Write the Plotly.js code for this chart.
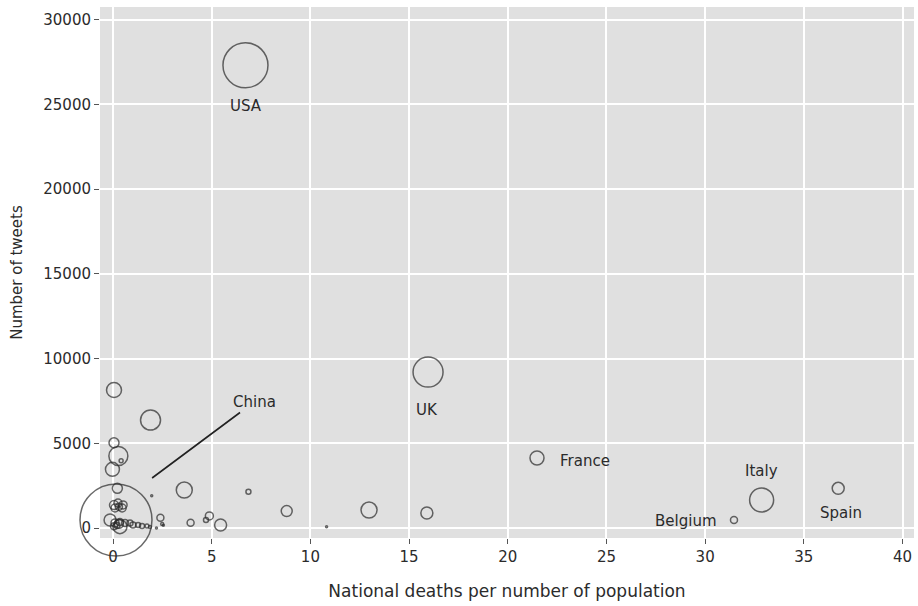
<!DOCTYPE html>
<html>
<head>
<meta charset="utf-8">
<script src="https://cdn.plot.ly/plotly-3.0.1.min.js"></script>
<style>html,body{margin:0;padding:0;background:#fff}#chart{width:918px;height:606px}</style>
</head>
<body>
<div id="chart"></div>
<script>
// Data
const country = ['USA','UK','France','Italy','Spain','Belgium','China',
  '','','','','','','','','','','','','','','','','','','','','','','','','','','','','','','','','','','','','','','','',''];
const deathsPerPop = [6.71,15.96,21.48,32.86,36.74,31.46,0.15,
  0.05,1.90,0.05,0.27,0.41,-0.03,0.22,3.61,6.86,1.96,
  0.05,0.25,0.51,0.10,0.46,0.30,-0.15,0.10,0.20,0.05,0.30,
  0.35,0.61,0.86,1.01,1.27,1.47,1.72,1.87,0.35,
  2.40,2.49,2.55,2.20,3.93,4.88,4.71,5.45,8.80,12.97,15.90,10.82];
const tweets = [27300,9200,4130,1650,2340,470,470,
  8140,6370,5030,4250,3970,3460,2340,2240,2140,1900,
  1350,1470,1360,1180,1180,1250,470,300,150,100,250,
  350,300,300,180,180,120,120,60,80,
  610,240,160,0,310,710,470,180,1000,1060,890,80];
const bubbleSize = [45,30,14,24,12,7,72,
  15,20,10,19,4,14,10,16,5,2,
  9,8,8,8,8,7,12,8,6,7,9,
  7,7,6,6,5,5,4,3,14,
  7,3,2,2,7,8,5,12,11,16,12,2];

const xTicks = [0,5,10,15,20,25,30,35,40];
const yTicks = [0,5000,10000,15000,20000,25000,30000];
const yTickText = ['0','5000','10000','15000','20000','25000','30000'];

const textFont = {family:'DejaVu Sans, Arial, sans-serif', size:15, color:'#2b2b2b'};
const xTitleFont = {family:'DejaVu Sans, Arial, sans-serif', size:17, color:'#2b2b2b'};
const yTitleFont = {family:'DejaVu Sans, Arial, sans-serif', size:15, color:'#2b2b2b'};

const trace = {
  type:'scatter', mode:'markers',
  x: deathsPerPop, y: tweets, text: country,
  cliponaxis:false,
  hoverinfo:'x+y+text',
  marker:{size: bubbleSize, sizemode:'diameter', sizeref:1,
    color:'rgba(0,0,0,0)', line:{color:'#2a2a2a', width:1.5}},
  showlegend:false
};

// label placement (pixel offsets) for named countries
const labelStyle = {
  USA:{xshift:1, yshift:-41, xanchor:'center'},
  UK:{xshift:-1, yshift:-38, xanchor:'center'},
  France:{xshift:21, yshift:-3, xanchor:'left'},
  Italy:{xshift:0, yshift:29, xanchor:'center'},
  Spain:{xshift:3, yshift:-25, xanchor:'center'},
  Belgium:{xshift:-15, yshift:-1, xanchor:'right'}
};
const annotations = [];
country.forEach((c,i)=>{
  if(labelStyle[c]){
    const s = labelStyle[c];
    annotations.push({x:deathsPerPop[i], y:tweets[i], xref:'x', yref:'y', text:c,
      showarrow:false, xanchor:s.xanchor, yanchor:'middle', xshift:s.xshift, yshift:s.yshift, font:textFont});
  }
});
// China callout line
const chinaLineX = 1.98, chinaLineY = 2950;
annotations.push({x:chinaLineX, y:chinaLineY, xref:'x', yref:'y', text:'China',
  showarrow:true, arrowhead:0, arrowwidth:1.6, arrowcolor:'#222',
  ax:102, ay:-76, font:textFont, standoff:0});

const layout = {
  width:918, height:606,
  margin:{l:100, r:4, t:7, b:68},
  paper_bgcolor:'#ffffff', plot_bgcolor:'#e0e0e0',
  font:textFont,
  xaxis:{range:[-0.66,40.58], tickvals:xTicks,
    showgrid:true, gridcolor:'#ffffff', gridwidth:1.5, zeroline:false,
    ticks:'outside', ticklen:5, tickwidth:1, tickcolor:'#555',
    tickfont:textFont, showline:false,
    title:{text:'National deaths per number of population', font:xTitleFont, standoff:20}},
  yaxis:{range:[-590,30740], tickvals:yTicks, ticktext:yTickText,
    showgrid:true, gridcolor:'#ffffff', gridwidth:1.5, zeroline:false,
    ticks:'outside', ticklen:5, tickwidth:1, tickcolor:'#555',
    tickfont:textFont, showline:false,
    title:{text:'Number of tweets', font:yTitleFont, standoff:17}},
  annotations: annotations,
  hovermode:'closest'
};

Plotly.newPlot('chart', [trace], layout, {displayModeBar:false});
</script>
</body>
</html>
